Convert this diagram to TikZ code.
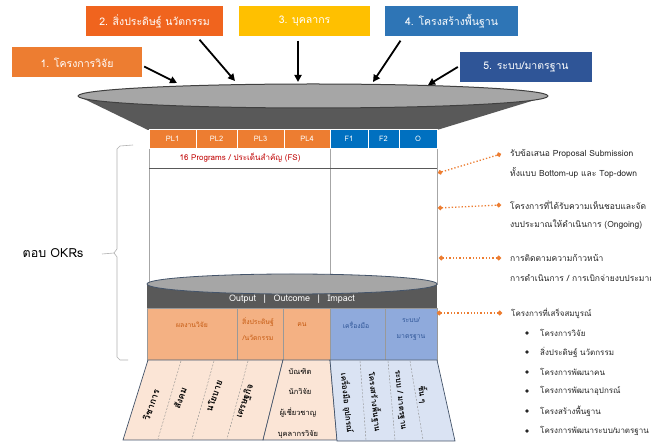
\documentclass[tikz,border=0pt]{standalone}
\usepackage{fontspec}
\setmainfont[Script=Thai]{Loma}
\usetikzlibrary{arrows.meta}
\definecolor{orA}{HTML}{ED7D31}
\definecolor{orB}{HTML}{F0641E}
\definecolor{goldA}{HTML}{FFC000}
\definecolor{blA}{HTML}{2E75B6}
\definecolor{blB}{HTML}{2F5597}
\definecolor{hdrBl}{HTML}{0070C0}
\definecolor{cellOr}{HTML}{F4B183}
\definecolor{cellBl}{HTML}{8FAADC}
\definecolor{peach}{HTML}{FBE5D6}
\definecolor{lblue}{HTML}{DAE3F3}
\definecolor{dgray}{HTML}{595959}
\definecolor{lgray}{HTML}{A6A6A6}
\definecolor{edgeC}{HTML}{44546A}
\definecolor{txtOr}{HTML}{C55A11}
\definecolor{txtRed}{HTML}{C00000}
\tikzset{
  topbox/.style={minimum height=30pt, inner sep=0pt, text=white, font=\fontsize{10.5}{12}\selectfont},
  arr/.style={line width=1.8pt, -{Triangle[length=7pt,width=7pt]}},
  hdr/.style={draw=white, line width=.6pt, inner sep=0pt, minimum height=19pt, text=white, font=\fontsize{7.5}{9}\selectfont},
  tline/.style={draw=black!35, line width=.5pt},
  cellbox/.style={draw=black!40, line width=.4pt},
  celltxt/.style={inner sep=0pt, align=center, font=\fontsize{6.8}{16}\selectfont},
  bottxt/.style={inner sep=0pt, font=\bfseries\fontsize{9}{10}\selectfont},
  vtxt/.style={inner sep=0pt, font=\bfseries\fontsize{8}{9}\selectfont},
  midtxt/.style={inner sep=0pt, font=\fontsize{7.5}{9}\selectfont},
  secedge/.style={draw=edgeC, line width=.7pt},
  divline/.style={draw=black!45, line width=.4pt, dash pattern=on 2pt off 1.5pt},
  dotc/.style={draw=orA, dotted, line width=1.3pt, {Circle[length=4.5pt]}-{Circle[length=4.5pt]}},
  rtxt/.style={anchor=west, inner sep=0pt, font=\fontsize{8.5}{10}\selectfont, text=black!85},
  rtxs/.style={anchor=west, inner sep=0pt, font=\fontsize{8}{9}\selectfont, text=black!85},
  bul/.style={circle, fill=black!85, inner sep=0pt, minimum size=3.8pt},
  brace/.style={draw=black!30, line width=.6pt}
}
\begin{document}
\begin{tikzpicture}[x=1pt,y=-1pt]
\useasboundingbox (0,0) rectangle (651,443);
\fill[white] (0,0) rectangle (651,443);

% funnel
\fill[dgray] (78,96) -- (148,130) -- (437,130) -- (548,96) -- cycle;
\draw[fill=lgray, draw=black!75, line width=1pt] (313,96) ellipse [x radius=235, y radius=12];

% top boxes
\node[topbox, fill=orA, minimum width=130pt]   (b1) at (77,62.5) {1. โครงการวิจัย};
\node[topbox, fill=orB, minimum width=137pt]   (b2) at (154.5,21.5) {2. สิ่งประดิษฐ์ นวัตกรรม};
\node[topbox, fill=goldA, minimum width=131pt] (b3) at (304.5,21.5) {3. บุคลากร};
\node[topbox, fill=blA, minimum width=133pt]   (b4) at (451.5,21.5) {4. โครงสร้างพื้นฐาน};
\node[topbox, fill=blB, minimum width=132pt]   (b5) at (526,67) {5. ระบบ/มาตรฐาน};

\coordinate (t1) at (177,83);
\coordinate (t2) at (235,81);
\coordinate (t3) at (298,82);
\coordinate (t4) at (373,82);
\coordinate (t5) at (428,85);
\draw[arr] ([xshift=2pt,yshift=-4pt]b1.east) -- (t1);
\draw[arr] ([xshift=45pt,yshift=-3pt]b2.south) -- (t2);
\draw[arr] ([xshift=-6.5pt,yshift=-4pt]b3.south) -- (t3);
\draw[arr] ([xshift=-51pt,yshift=-4pt]b4.south) -- (t4);
\draw[arr] ([xshift=-2pt]b5.west) -- (t5);

% table body
\draw[tline, fill=white] (149,148) rectangle (437,284);
\draw[tline] (330,148) -- (330,284);
\draw[draw=dgray, line width=.7pt] (149,168) -- (437,168);
\node[inner sep=0pt, text=txtRed, font=\fontsize{8}{9}\selectfont] (fs) at (240,158) {16 Programs / ประเด็นสำคัญ (FS)};

% header
\node[hdr, fill=orA, minimum width=47pt]   (pl1) at (172.5,139) {PL1};
\node[hdr, fill=orA, minimum width=41pt]   (pl2) at (216.5,139) {PL2};
\node[hdr, fill=orA, minimum width=47pt]   (pl3) at (260.5,139) {PL3};
\node[hdr, fill=orA, minimum width=46pt]   (pl4) at (307,139) {PL4};
\node[hdr, fill=hdrBl, minimum width=38pt] (f1)  at (349,139) {F1};
\node[hdr, fill=hdrBl, minimum width=31pt] (f2)  at (383.5,139) {F2};
\node[hdr, fill=hdrBl, minimum width=38pt] (o)   at (418,139) {O};

% lower cylinder
\fill[dgray] (147,284) rectangle (437,308);
\draw[fill=lgray, draw=edgeC, line width=.8pt] (292,284) ellipse [x radius=145, y radius=10];
\node[inner sep=0pt, text=white, font=\fontsize{9}{10}\selectfont] (ooi) at (292,299) {Output \ \,|\ \, Outcome \ \,|\ \, Impact};

% cells row
\draw[cellbox, fill=cellOr] (147,308) rectangle (237,360);
\draw[cellbox, fill=cellOr] (237,308) rectangle (283,360);
\draw[cellbox, fill=cellOr] (283,308) rectangle (330,360);
\draw[cellbox, fill=cellBl] (330,308) rectangle (385,360);
\draw[cellbox, fill=cellBl] (385,308) rectangle (437,360);
\node[celltxt, text=txtOr] (c1) at (192,325) {ผลงานวิจัย};
\node[celltxt, text=txtOr] (c2) at (258,329) {สิ่งประดิษฐ์\\/นวัตกรรม};
\node[celltxt, text=txtOr] (c3) at (302,325) {คน};
\node[celltxt, text=blB]   (c4) at (356,325) {เครื่องมือ};
\node[celltxt, text=blB]   (c5) at (411,329) {ระบบ/\\มาตรฐาน};

% bottom sections
\path[secedge, fill=peach] (148,360) -- (283,360) -- (263,440) -- (123,440) -- cycle;
\path[secedge, fill=peach] (283,360) -- (330,360) -- (337,440) -- (263,440) -- cycle;
\path[secedge, fill=lblue] (330,360) -- (437,360) -- (455,441) -- (337,441) -- cycle;
\draw[divline] (181,361) -- (158,439);
\draw[divline] (214,361) -- (192,439);
\draw[divline] (248,361) -- (227,439);
\draw[divline] (360,361) -- (366,440);
\draw[divline] (388,361) -- (395,440);
\draw[divline] (410,361) -- (423,440);

\node[bottxt, rotate=70] (s1) at (151,405) {วิชาการ};
\node[bottxt, rotate=70] (s2) at (180,398) {สังคม};
\node[bottxt, rotate=70] (s3) at (214,396) {นโยบาย};
\node[bottxt, rotate=70] (s4) at (245,401) {เศรษฐกิจ};

\node[midtxt] (m1) at (300,372) {บัณฑิต};
\node[midtxt] (m2) at (300,392) {นักวิจัย};
\node[midtxt] (m3) at (298,413) {ผู้เชี่ยวชาญ};
\node[midtxt] (m4) at (298,434) {บุคลากรวิจัย};

\node[vtxt, rotate=-84] (v1) at (347,403) {เครื่องมือ อุปกรณ์};
\node[vtxt, rotate=-84] (v2) at (375,402) {โครงสร้างพื้นฐาน};
\node[vtxt, rotate=-84] (v3) at (400,400) {ระบบ / มาตรฐาน};
\node[vtxt, rotate=-84] (v4) at (423,395) {ชิ้น ๆ};

% right annotations
\coordinate (d1) at (438,173);
\coordinate (d2) at (438,208);
\coordinate (d3) at (439,258);
\coordinate (d4) at (437,313);
\node[rtxt] (r1) at (510,154) {รับข้อเสนอ Proposal Submission};
\node[rtxt] (r1b) at (510,173) {ทั้งแบบ Bottom-up และ Top-down};
\node[rtxt] (r2) at (510,205) {โครงการที่ได้รับความเห็นชอบและจัด};
\node[rtxt] (r2b) at (510,225) {งบประมาณให้ดำเนินการ (Ongoing)};
\node[rtxt] (r3) at (510,258) {การติดตามความก้าวหน้า};
\node[rtxt] (r3b) at (510,278) {การดำเนินการ / การเบิกจ่ายงบประมาณ};
\node[rtxs] (r4) at (511,313) {โครงการที่เสร็จสมบูรณ์};
\draw[dotc] (d1) -- ([xshift=-9pt]r1.west);
\draw[dotc] (d2) -- ([xshift=-9pt]r2.west);
\draw[dotc] (d3) -- ([xshift=-9pt]r3.west);
\draw[dotc] (d4) -- ([xshift=-9pt]r4.west);

\foreach \i/\yy/\t in {1/333/{โครงการวิจัย}, 2/352/{สิ่งประดิษฐ์ นวัตกรรม}, 3/372/{โครงการพัฒนาคน}, 4/391/{โครงการพัฒนาอุปกรณ์}, 5/411/{โครงสร้างพื้นฐาน}, 6/431/{โครงการพัฒนาระบบ/มาตรฐาน}}{
  \node[bul] (bd\i) at (527,\yy) {};
  \node[rtxs] (bt\i) at (540,\yy) {\t};
}

% left brace
\draw[brace] (133,145) -- (120,146) -- (117,149) -- (117,249) -- (114,253) -- (102,254);
\draw[brace] (114,253) -- (117,257) -- (117,357) -- (120,360) -- (128,360);
\node[inner sep=0pt, font=\fontsize{12.5}{14}\selectfont] (okr) at (53,253) {ตอบ OKRs};
\end{tikzpicture}
\end{document}
